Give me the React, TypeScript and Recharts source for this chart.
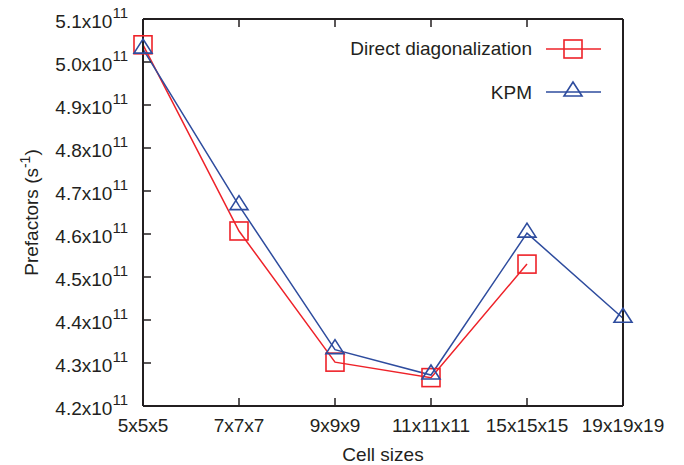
import React from 'react';
import { LineChart, Line, XAxis, YAxis, Legend } from 'recharts';

const CELL_SIZES = ['5x5x5', '7x7x7', '9x9x9', '11x11x11', '15x15x15', '19x19x19'];
const DIRECT = [5.04e11, 4.607e11, 4.302e11, 4.266e11, 4.53e11, null];
const KPM = [5.03e11, 4.666e11, 4.331e11, 4.272e11, 4.602e11, 4.404e11];
const Y_TICKS = [4.2e11, 4.3e11, 4.4e11, 4.5e11, 4.6e11, 4.7e11, 4.8e11, 4.9e11, 5.0e11, 5.1e11];

const RED = '#ee2229';
const BLUE = '#2e4c9e';
const INK = '#231f20';
const FONT = '"Liberation Sans", Arial, Helvetica, sans-serif';

const data = CELL_SIZES.map((size, i) => ({ size, direct: DIRECT[i], kpm: KPM[i] }));

function Square({ cx, cy, color }: { cx: number; cy: number; color: string }) {
  return <rect x={cx - 9} y={cy - 9} width={18} height={18} fill="none" stroke={color} strokeWidth={1.6} />;
}

function Triangle({ cx, cy, color }: { cx: number; cy: number; color: string }) {
  const pts = `${cx},${cy - 10} ${cx - 9},${cy + 4} ${cx + 9},${cy + 4}`;
  return <polygon points={pts} fill="none" stroke={color} strokeWidth={1.6} />;
}

const squareDot = (props: any) => {
  const { cx, cy, index } = props;
  if (cx == null || cy == null) return <g key={`s${index}`} />;
  return <Square key={`s${index}`} cx={cx} cy={cy} color={RED} />;
};

const triangleDot = (props: any) => {
  const { cx, cy, index } = props;
  if (cx == null || cy == null) return <g key={`t${index}`} />;
  return <Triangle key={`t${index}`} cx={cx} cy={cy} color={BLUE} />;
};

// gnuplot style: ticks point into the plot box
const BottomTick = (props: any) => {
  const { x, y, payload } = props;
  return (
    <g>
      <line x1={x} y1={y} x2={x} y2={y - 8} stroke={INK} strokeWidth={1.5} />
      <text x={x} y={y + 26} textAnchor="middle" fontSize={19} fill={INK} fontFamily={FONT}>
        {payload.value}
      </text>
    </g>
  );
};

const TopTick = (props: any) => {
  const { x, y } = props;
  return <line x1={x} y1={y} x2={x} y2={y + 8} stroke={INK} strokeWidth={1.5} />;
};

const LeftTick = (props: any) => {
  const { x, y, payload } = props;
  const mant = (payload.value / 1e11).toFixed(1);
  return (
    <g>
      <line x1={x} y1={y} x2={x + 8} y2={y} stroke={INK} strokeWidth={1.5} />
      <text x={x - 15} y={y + 9} textAnchor="end" fontSize={19} fill={INK} fontFamily={FONT}>
        <tspan>{mant}x10</tspan>
        <tspan dy={-10} fontSize={15}>11</tspan>
      </text>
    </g>
  );
};

const RightTick = (props: any) => {
  const { x, y } = props;
  return <line x1={x} y1={y} x2={x - 8} y2={y} stroke={INK} strokeWidth={1.5} />;
};

const LegendBox = () => (
  <svg width={290} height={80}>
    <text x={202} y={26} textAnchor="end" fontSize={19} fill={INK} fontFamily={FONT}>
      Direct diagonalization
    </text>
    <line x1={216} y1={20} x2={271} y2={20} stroke={RED} strokeWidth={1.5} />
    <Square cx={243} cy={20} color={RED} />
    <text x={202} y={70} textAnchor="end" fontSize={19} fill={INK} fontFamily={FONT}>
      KPM
    </text>
    <line x1={216} y1={63} x2={271} y2={63} stroke={BLUE} strokeWidth={1.5} />
    <Triangle cx={243} cy={63} color={BLUE} />
  </svg>
);

export default function App() {
  return (
    <div style={{ position: 'absolute', left: 0, top: 0, width: 684, height: 465, background: '#fff' }}>
      <LineChart width={684} height={465} data={data} margin={{ top: 0, right: 0, bottom: 0, left: 0 }}>
        <XAxis
          dataKey="size"
          xAxisId="bottom"
          orientation="bottom"
          height={59}
          interval={0}
          tickSize={0}
          tickMargin={0}
          tick={BottomTick}
          axisLine={{ stroke: INK, strokeWidth: 2 }}
          label={{
            content: (p: any) => {
              const vb = p.viewBox;
              return (
                <text x={vb.x + vb.width / 2} y={vb.y + 55} textAnchor="middle" fontSize={19} fill={INK} fontFamily={FONT}>
                  Cell sizes
                </text>
              );
            },
          }}
        />
        <XAxis
          dataKey="size"
          xAxisId="top"
          orientation="top"
          height={19}
          interval={0}
          tickSize={0}
          tickMargin={0}
          tick={TopTick}
          axisLine={{ stroke: INK, strokeWidth: 2 }}
        />
        <YAxis
          yAxisId="left"
          orientation="left"
          width={143}
          domain={[4.2e11, 5.1e11]}
          ticks={Y_TICKS}
          interval={0}
          tickSize={0}
          tickMargin={0}
          tick={LeftTick}
          axisLine={{ stroke: INK, strokeWidth: 2 }}
          label={{
            content: (p: any) => {
              const vb = p.viewBox;
              const cx = 38;
              const cy = vb.y + vb.height / 2;
              return (
                <text x={cx} y={cy} transform={`rotate(-90 ${cx} ${cy})`} textAnchor="middle" fontSize={19} fill={INK} fontFamily={FONT}>
                  <tspan>Prefactors (s</tspan>
                  <tspan dy={-8} fontSize={14}>-1</tspan>
                  <tspan dy={8}>)</tspan>
                </text>
              );
            },
          }}
        />
        <YAxis
          yAxisId="right"
          orientation="right"
          width={61}
          domain={[4.2e11, 5.1e11]}
          ticks={Y_TICKS}
          interval={0}
          tickSize={0}
          tickMargin={0}
          tick={RightTick}
          axisLine={{ stroke: INK, strokeWidth: 2 }}
        />
        <Legend
          layout="vertical"
          align="center"
          verticalAlign="middle"
          wrapperStyle={{ position: 'absolute', left: 330, top: 29, width: 290, height: 80 }}
          content={() => <LegendBox />}
        />
        <Line
          xAxisId="bottom"
          yAxisId="left"
          dataKey="direct"
          name="Direct diagonalization"
          stroke={RED}
          strokeWidth={1.5}
          dot={squareDot}
          activeDot={false}
          isAnimationActive={false}
        />
        <Line
          xAxisId="bottom"
          yAxisId="left"
          dataKey="kpm"
          name="KPM"
          stroke={BLUE}
          strokeWidth={1.5}
          dot={triangleDot}
          activeDot={false}
          isAnimationActive={false}
        />
      </LineChart>
    </div>
  );
}
